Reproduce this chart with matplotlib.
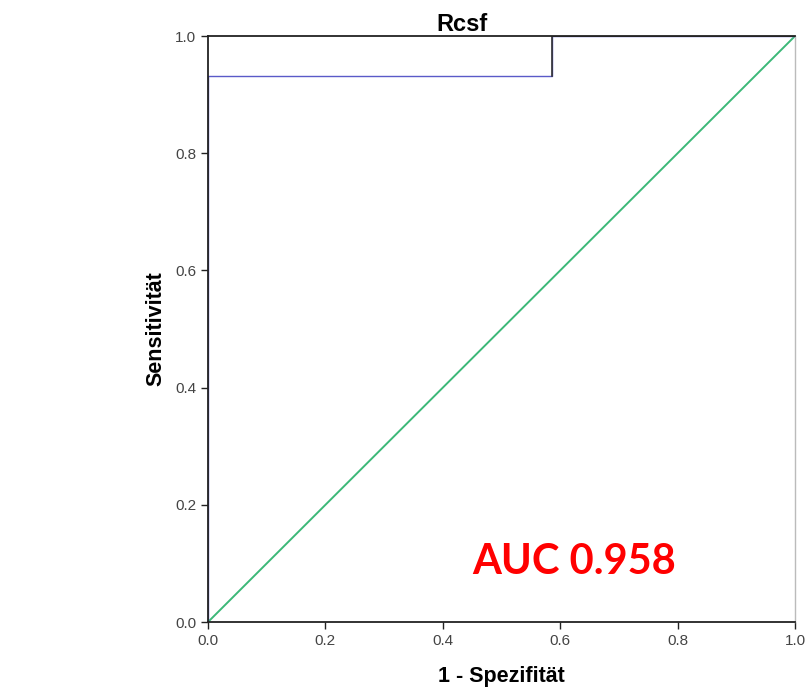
import matplotlib
matplotlib.use('Agg')
import matplotlib.pyplot as plt

# ROC curve for Rcsf (1 - specificity, sensitivity)
roc_fpr = [0.0, 0.0, 0.586, 0.586, 1.0]
roc_tpr = [0.0, 0.932, 0.932, 1.0, 1.0]
ref_line = [0.0, 1.0]
ticks = [0.0, 0.2, 0.4, 0.6, 0.8, 1.0]
auc_label = 'AUC 0.958'

plt.rcParams['font.family'] = ['Liberation Sans', 'DejaVu Sans']

fig = plt.figure(figsize=(8.05, 6.88), dpi=100)
ax = fig.add_axes([0.2584, 0.0959, 0.7292, 0.8517])

ax.plot(ref_line, ref_line, color='#3cb878', linewidth=1.4, zorder=2)
ax.plot(roc_fpr, roc_tpr, color='#5a5ac8', linewidth=1.0, zorder=3)
# vertical step and top part of the curve look dark, like the frame
ax.plot(roc_fpr[2:], roc_tpr[2:], color='#333333', linewidth=1.2, zorder=4)

ax.set_xlim(0, 1)
ax.set_ylim(0, 1)
ax.set_xticks(ticks)
ax.set_yticks(ticks)
ax.set_xticklabels([f'{t:.1f}' for t in ticks])
ax.set_yticklabels([f'{t:.1f}' for t in ticks])
ax.tick_params(direction='out', length=5, width=1, labelsize=11,
               labelcolor='#444444', color='#222222')

for side in ['left', 'bottom', 'top']:
    ax.spines[side].set_color('#222222')
    ax.spines[side].set_linewidth(1.3)
    ax.spines[side].set_zorder(6)
ax.spines['right'].set_color('#bbbbbb')
ax.spines['right'].set_linewidth(1.0)

ax.set_xlabel('1 - Spezifität', fontsize=15.5, fontweight='bold', labelpad=13)
ax.set_ylabel('Sensitivität', fontsize=15.5, fontweight='bold', labelpad=6)
ax.set_title('Rcsf', fontsize=17, fontweight='bold', x=0.433, pad=3)

ax.text(0.624, 0.102, auc_label, color='#ff0000', fontsize=30,
        fontweight='bold', ha='center', va='center',
        family=['Lato', 'DejaVu Sans'])

plt.savefig('out.png', dpi=100)
plt.close()
